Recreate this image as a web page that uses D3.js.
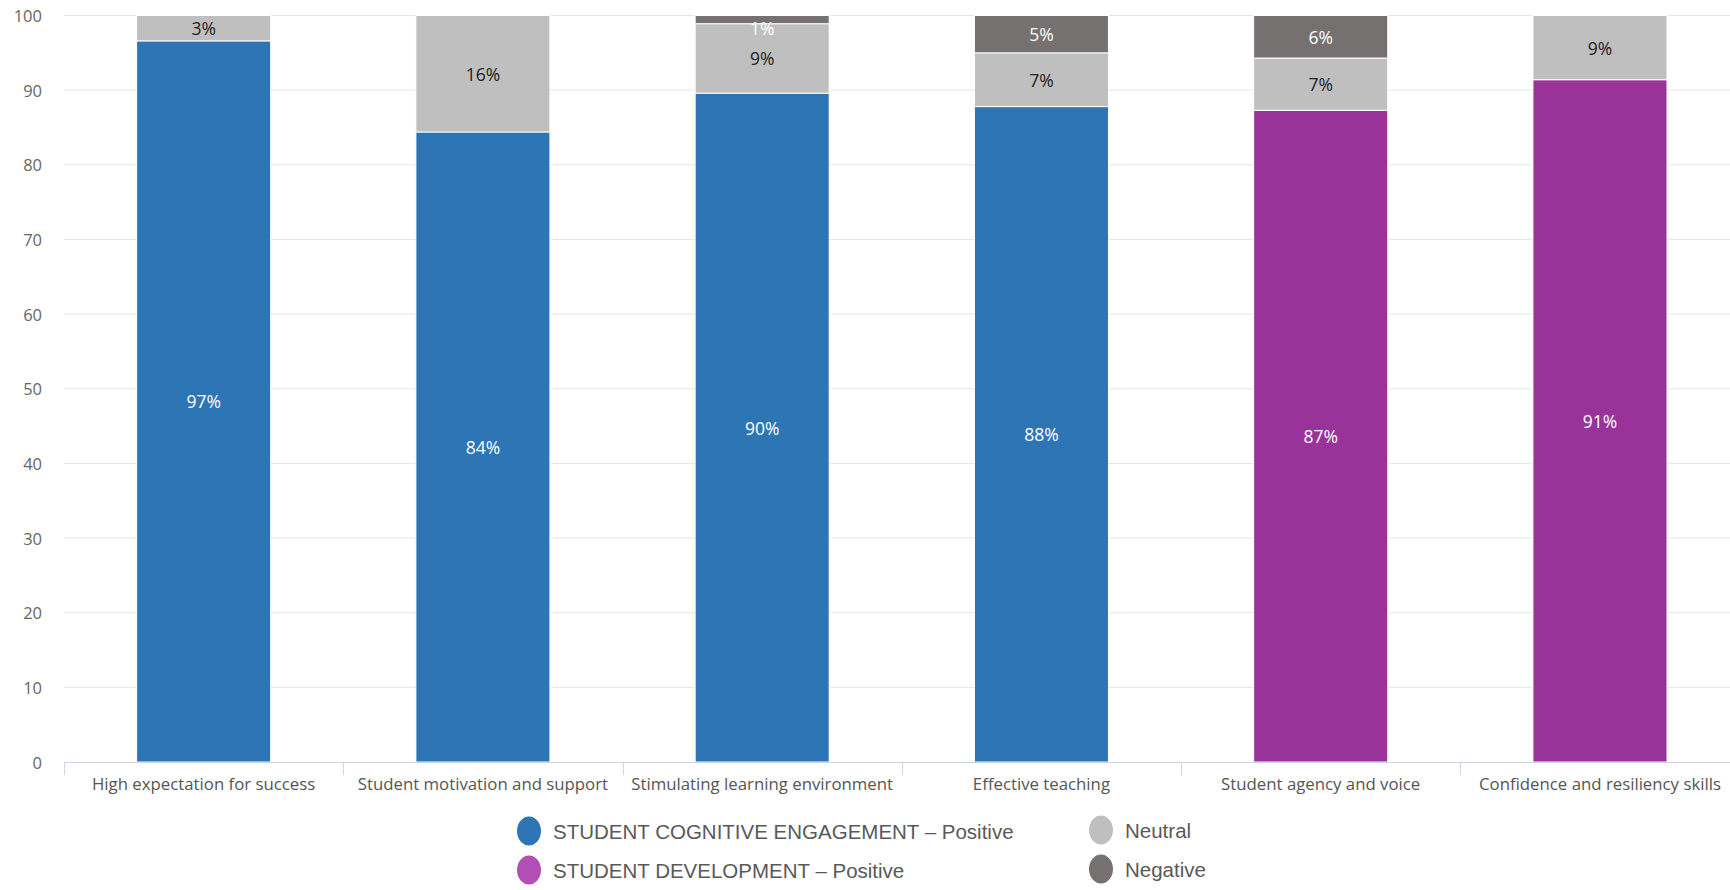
<!DOCTYPE html>
<html>
<head>
<meta charset="utf-8">
<script src="https://cdn.jsdelivr.net/npm/d3@7"></script>
<style>
  html, body { margin: 0; padding: 0; background: #fff; }
  svg { display: block; }
</style>
</head>
<body>
<svg id="chart" width="1730" height="890"></svg>
<script>
// ---- data ----
const categories = [
  "High expectation for success",
  "Student motivation and support",
  "Stimulating learning environment",
  "Effective teaching",
  "Student agency and voice",
  "Confidence and resiliency skills"
];
const groups = ["cog", "cog", "cog", "cog", "dev", "dev"];
const positive = [96.6, 84.4, 89.6, 87.8, 87.3, 91.4];
const neutral  = [3.4, 15.6, 9.3, 7.2, 7.0, 8.6];
const negative = [0, 0, 1.1, 5.0, 5.7, 0];
const yTicks = [0, 10, 20, 30, 40, 50, 60, 70, 80, 90, 100];
const legendItems = [
  { label: "STUDENT COGNITIVE ENGAGEMENT \u2013 Positive", key: "cog" },
  { label: "STUDENT DEVELOPMENT \u2013 Positive", key: "dev" },
  { label: "Neutral", key: "neutral" },
  { label: "Negative", key: "negative" }
];

// ---- styles ----
const colors = {
  cog: "#2E75B6",
  dev: "#993399",
  devLegend: "#B24FB4",
  neutral: "#BFBFBF",
  negative: "#767171"
};

const svg = d3.select("#chart");
const x = d3.scaleBand().domain(categories).range([64, 1739.6]).padding(0);
const y = d3.scaleLinear().domain([0, 100]).range([762, 15.5]);
const barW = x.bandwidth() * 0.48;

// gridlines
svg.append("g").selectAll("line").data(yTicks.filter(t => t > 0)).join("line")
  .attr("x1", 64).attr("x2", 1730)
  .attr("y1", d => y(d)).attr("y2", d => y(d))
  .attr("stroke", "#e6e6e6").attr("stroke-width", 1);

// y tick labels
svg.append("g").selectAll("text").data(yTicks).join("text")
  .attr("x", 42).attr("y", d => y(d))
  .attr("text-anchor", "end").attr("dominant-baseline", "central")
  .attr("font-family", "'Open Sans', sans-serif").attr("font-size", 16.5)
  .attr("fill", "#666").text(d => d);

// stacked data
const rows = categories.map((c, i) => ({
  cat: c, group: groups[i], positive: positive[i], neutral: neutral[i], negative: negative[i]
}));
const stack = d3.stack().keys(["positive", "neutral", "negative"]);
const series = stack(rows);

const segs = [];
series.forEach(s => {
  s.forEach(d => {
    const v = d[1] - d[0];
    if (v <= 0) return;
    segs.push({ key: s.key, cat: d.data.cat, group: d.data.group, y0: d[0], y1: d[1], v });
  });
});

function segColor(d) {
  if (d.key === "positive") return colors[d.group];
  return colors[d.key];
}

svg.append("g").selectAll("rect").data(segs).join("rect")
  .attr("x", d => x(d.cat) + (x.bandwidth() - barW) / 2)
  .attr("width", barW)
  .attr("y", d => y(d.y1))
  .attr("height", d => y(d.y0) - y(d.y1))
  .attr("fill", segColor)
  .attr("stroke", "#fff").attr("stroke-width", 1);

// segment labels
svg.append("g").selectAll("text").data(segs).join("text")
  .attr("x", d => x(d.cat) + x.bandwidth() / 2)
  .attr("y", d => Math.max((y(d.y0) + y(d.y1)) / 2, y(100) + 12))
  .attr("text-anchor", "middle").attr("dominant-baseline", "central")
  .attr("font-family", "'Open Sans', sans-serif").attr("font-size", 17.5)
  .attr("fill", d => d.key === "neutral" ? "#222" : "#fff")
  .text(d => Math.round(d.v) + "%");

// x axis line
svg.append("line")
  .attr("x1", 64).attr("x2", 1730).attr("y1", 762.5).attr("y2", 762.5)
  .attr("stroke", "#ccd6eb").attr("stroke-width", 1);

// ticks at band boundaries
svg.append("g").selectAll("line").data(categories).join("line")
  .attr("x1", d => Math.round(x(d)) + 0.5).attr("x2", d => Math.round(x(d)) + 0.5)
  .attr("y1", 762).attr("y2", 775)
  .attr("stroke", "#ccd6eb").attr("stroke-width", 1);

// category labels
svg.append("g").selectAll("text").data(categories).join("text")
  .attr("x", d => x(d) + x.bandwidth() / 2)
  .attr("y", 790)
  .attr("text-anchor", "middle")
  .attr("font-family", "'Open Sans', sans-serif").attr("font-size", 16.8)
  .attr("fill", "#555").text(d => d);

// legend
const legendPos = [
  { cx: 529, cy: 831 },
  { cx: 529, cy: 870 },
  { cx: 1101, cy: 830 },
  { cx: 1101, cy: 869 }
];
const lg = svg.append("g");
legendItems.forEach((it, i) => {
  const p = legendPos[i];
  const fill = it.key === "dev" ? colors.devLegend : colors[it.key];
  lg.append("ellipse").attr("cx", p.cx).attr("cy", p.cy).attr("rx", 12).attr("ry", 14.5).attr("fill", fill);
  lg.append("text").attr("x", p.cx + 24).attr("y", p.cy)
    .attr("dominant-baseline", "central")
    .attr("font-family", "'Liberation Sans', Arial, sans-serif").attr("font-size", 20.5)
    .attr("fill", "#595959").text(it.label);
});
</script>
</body>
</html>
